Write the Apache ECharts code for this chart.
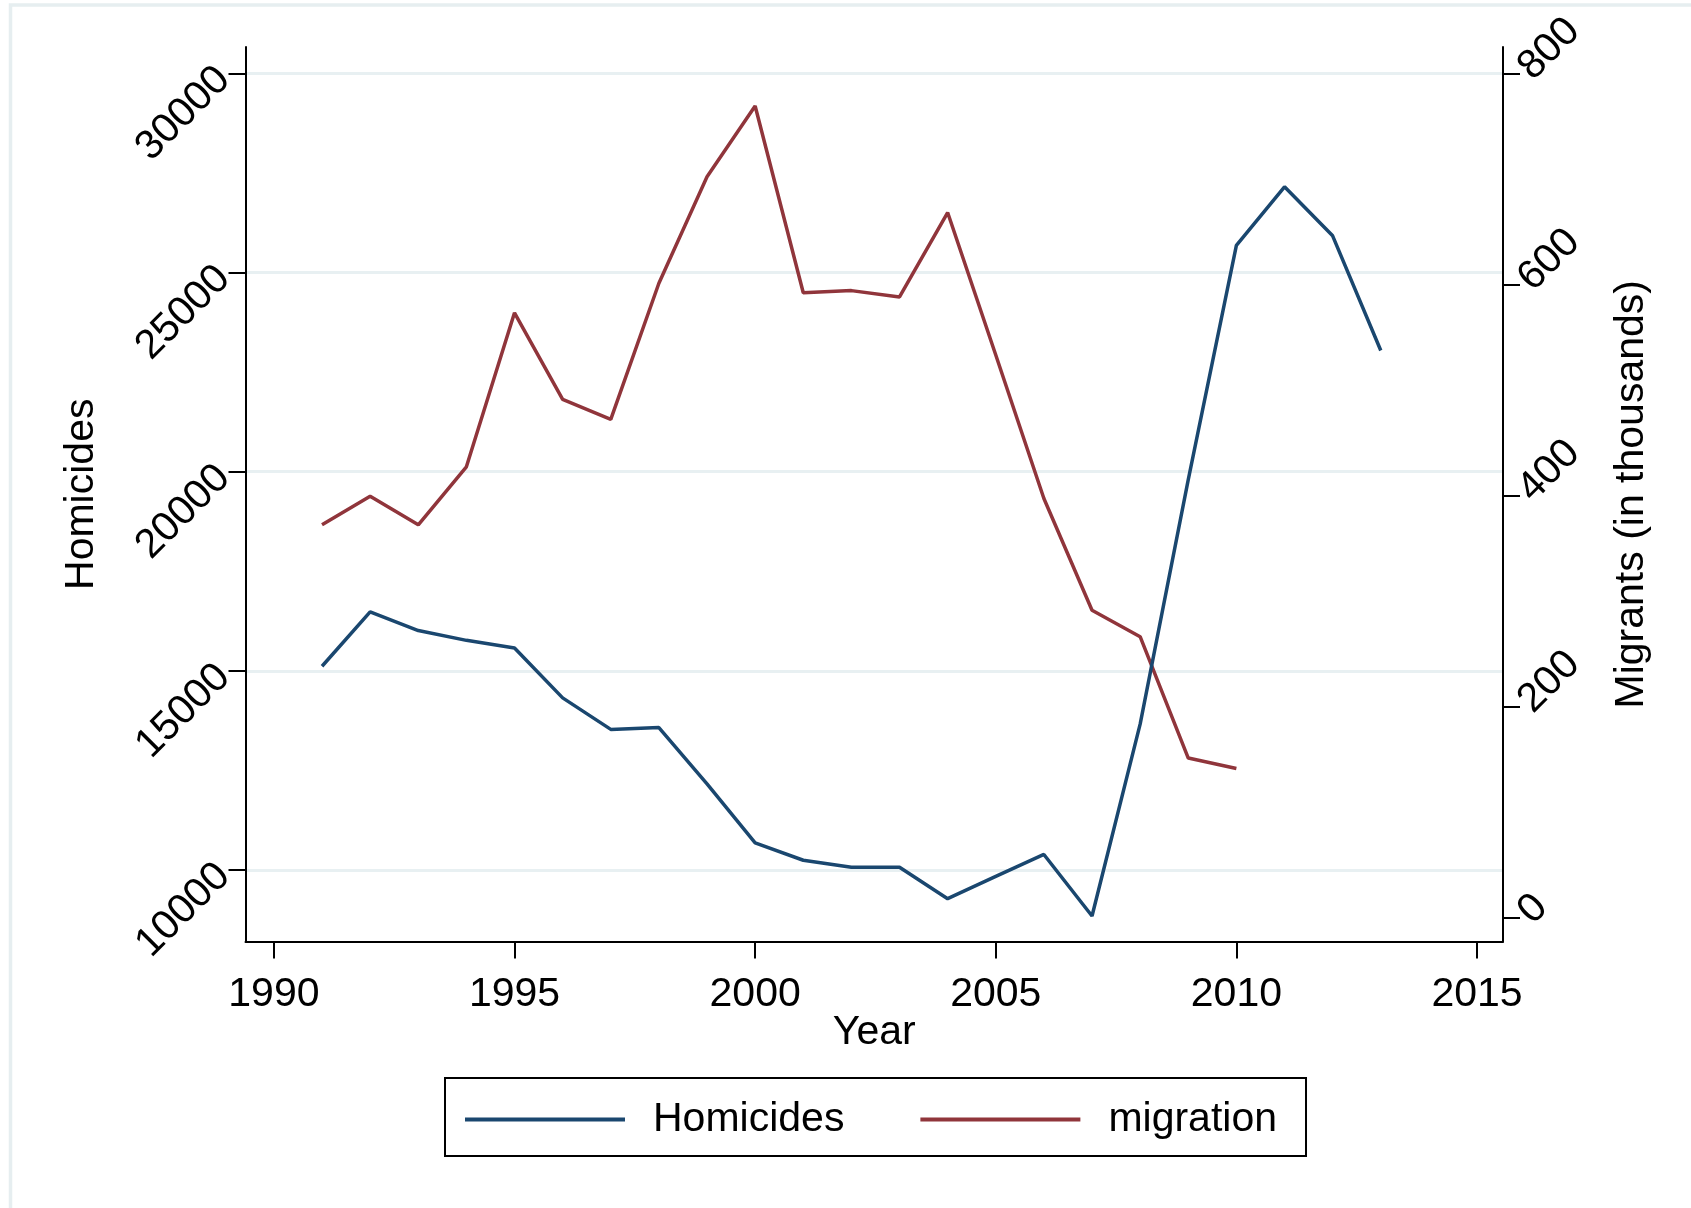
<!DOCTYPE html>
<html>
<head>
<meta charset="utf-8">
<title>Homicides and migration</title>
<script src="https://cdn.jsdelivr.net/npm/echarts@6/dist/echarts.min.js"></script>
<style>
  html, body { margin: 0; padding: 0; background: #ffffff; }
  #chart { width: 1691px; height: 1208px; }
</style>
</head>
<body>
<div id="chart"></div>
<script>
// Annual series, 1991-2013
const years = [1991, 1992, 1993, 1994, 1995, 1996, 1997, 1998, 1999, 2000, 2001, 2002,
               2003, 2004, 2005, 2006, 2007, 2008, 2009, 2010, 2011, 2012, 2013];
const homicides = [15115, 16480, 16010, 15765, 15575, 14320, 13530, 13575, 12160, 10680, 10245, 10070,
                   10070, 9280, 9840, 10390, 8845, 13660, 19800, 25680, 27150, 25920, 23040];
// migrants in thousands (available through 2010)
const migration = [372, 399, 372, 427, 573, 491, 472, 601, 702, 769, 592, 594,
                   588, 668, 533, 397, 291, 266, 151, 141];

// tick labels
const yearTicks = [1990, 1995, 2000, 2005, 2010, 2015];
const homicideTicks = [10000, 15000, 20000, 25000, 30000];
const migrantTicks = [0, 200, 400, 600, 800];

const FONT = "'Liberation Sans', Arial, sans-serif";
const BLUE = '#1a476f';
const RED = '#90353b';
const GRID = '#e8f0f2';

const homicideData = years.map((y, i) => [y, homicides[i]]);
const migrationData = migration.map((v, i) => [years[i], v]);

const plain = v => String(v);

const chart = echarts.init(document.getElementById('chart'), null, { renderer: 'canvas' });

const axisLineStyle = { color: '#000', width: 2 };

chart.setOption({
  animation: false,
  backgroundColor: '#ffffff',
  textStyle: { fontFamily: FONT },
  graphic: [{
    type: 'rect',
    silent: true,
    z: -10,
    shape: { x: 10.5, y: 5, width: 1720, height: 1240 },
    style: { fill: 'none', stroke: '#e6eef0', lineWidth: 3.5 }
  }],
  grid: {
    left: 245.5, right: 188, top: 47, bottom: 266.5,
    containLabel: false,
    outerBoundsMode: 'none'
  },
  legend: {
    left: 445,
    top: 1078,
    orient: 'horizontal',
    padding: [21, 29, 16, 18],
    itemGap: 74,
    itemWidth: 160,
    itemHeight: 14,
    borderColor: '#000',
    borderWidth: 2,
    lineStyle: { width: 4 },
    itemStyle: { opacity: 0, borderWidth: 0 },
    textStyle: { fontFamily: FONT, fontSize: 41, color: '#000', padding: [0, 0, 0, 23] },
    data: ['Homicides', 'migration']
  },
  xAxis: {
    type: 'value',
    min: 1989.41,
    max: 2015.54,
    name: 'Year',
    nameLocation: 'middle',
    nameGap: 71,
    nameMoveOverlap: false,
    nameTextStyle: { fontFamily: FONT, fontSize: 41, color: '#000' },
    axisLine: { show: true, onZero: false, lineStyle: axisLineStyle },
    axisTick: { show: true, inside: false, length: 17, lineStyle: axisLineStyle, customValues: yearTicks },
    axisLabel: { fontFamily: FONT, fontSize: 41, color: '#000', margin: 33, formatter: plain, customValues: yearTicks },
    splitLine: { show: false }
  },
  yAxis: [{
    type: 'value',
    position: 'left',
    min: 8205,
    max: 30660,
    name: 'Homicides',
    nameLocation: 'middle',
    nameRotate: 90,
    nameGap: 143,
    nameMoveOverlap: false,
    nameTextStyle: { fontFamily: FONT, fontSize: 41, color: '#000' },
    axisLine: { show: true, onZero: false, lineStyle: axisLineStyle },
    axisTick: { show: true, inside: false, length: 17, lineStyle: axisLineStyle, customValues: homicideTicks },
    axisLabel: { fontFamily: FONT, fontSize: 41, color: '#000', rotate: 45, margin: 22, formatter: plain, customValues: homicideTicks },
    splitLine: { show: true, lineStyle: { color: GRID, width: 3 } }
  }, {
    type: 'value',
    position: 'right',
    min: -22.9,
    max: 824.9,
    name: 'Migrants (in thousands)',
    nameLocation: 'middle',
    nameRotate: 90,
    nameGap: 108,
    nameMoveOverlap: false,
    nameTextStyle: { fontFamily: FONT, fontSize: 41, color: '#000' },
    axisLine: { show: true, onZero: false, lineStyle: axisLineStyle },
    axisTick: { show: true, inside: false, length: 17, lineStyle: axisLineStyle, customValues: migrantTicks },
    axisLabel: { fontFamily: FONT, fontSize: 41, color: '#000', rotate: 45, margin: 22, formatter: plain, customValues: migrantTicks },
    splitLine: { show: false }
  }],
  series: [{
    name: 'Homicides',
    type: 'line',
    yAxisIndex: 0,
    data: homicideData,
    symbol: 'none',
    lineStyle: { color: BLUE, width: 3.5 },
    itemStyle: { color: BLUE },
    z: 3
  }, {
    name: 'migration',
    type: 'line',
    yAxisIndex: 1,
    data: migrationData,
    symbol: 'none',
    lineStyle: { color: RED, width: 3.5 },
    itemStyle: { color: RED },
    z: 2
  }]
});
</script>
</body>
</html>
